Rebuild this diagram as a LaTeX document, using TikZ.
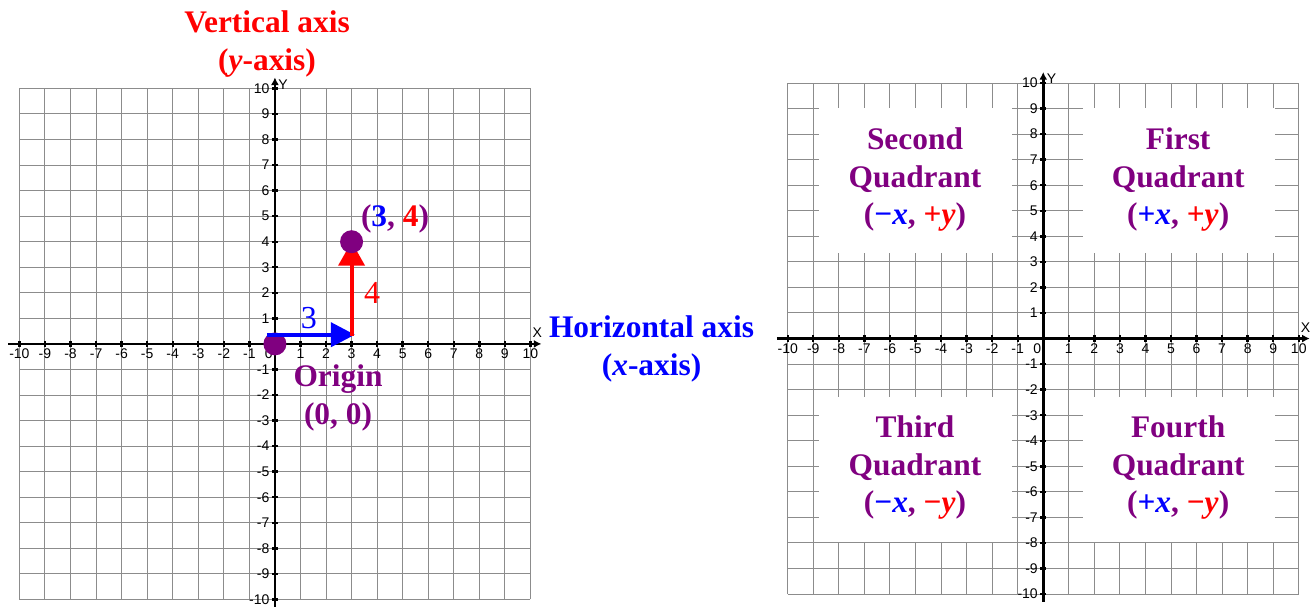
\documentclass[tikz,border=0pt]{standalone}
\usepackage{fontspec}
\setmainfont{Liberation Serif}
\newfontfamily\ticksans{Liberation Sans}
\usepackage{xcolor}
\definecolor{plum}{RGB}{128, 0, 128}
\definecolor{xblue}{RGB}{0, 0, 255}
\definecolor{yred}{RGB}{255, 0, 0}
\definecolor{gridgray}{RGB}{140, 140, 140}
\usetikzlibrary{arrows.meta}

\tikzset{
    gridline/.style={gridgray, line width=0.5pt},
    axisline/.style={line width=1.35pt, -{Latex[length=3.8pt,width=4pt]}},
    tickmark/.style={line width=1.2pt},
    ticklabel/.style={font=\ticksans\fontsize{7}{8}\selectfont, inner sep=0pt},
    bigtext/.style={font=\bfseries\fontsize{15.7}{18.8}\selectfont, align=center, plum, inner sep=0pt},
    steptext/.style={font=\fontsize{16}{18}\selectfont, inner sep=0pt},
}

\begin{document}
\begin{tikzpicture}[x=12.775pt, y=12.775pt, >=Stealth]
    \useasboundingbox (-10.76,-10.26) rectangle (40.51,13.46);

    % Both grids with axes and numbers
    \foreach \ox/\oy/\g in {0/0/L, 30.07/0.21/R} {
        \begin{scope}[shift={(\ox,\oy)}]
            \foreach \k in {-10,...,10} {
                \draw[gridline] (\k,-10) -- (\k,10);
                \draw[gridline] (-10,\k) -- (10,\k);
            }
            \draw[axisline] (-10.43,0) -- (10.43,0);
            \draw[axisline] (0,-10.3) -- (0,10.43);
            \foreach \i in {-10,...,-1,1,2,...,10} {
                \draw[tickmark] (\i,-0.12) -- (\i,0.12);
                \draw[tickmark] (-0.12,\i) -- (0.12,\i);
                \node[ticklabel] (\g x\i) at (\i,-0.38) {\i};
                \node[ticklabel, anchor=east] (\g y\i) at (-0.2,\i) {\i};
            }
            \node[ticklabel, anchor=east] (\g zero) at (-0.07,-0.38) {0};
            \node[ticklabel] (\g xname) at (10.27,0.42) {X};
            \node[ticklabel] (\g yname) at (0.32,10.16) {Y};
        \end{scope}
    }

    % Axis names
    \node[bigtext, yred] (vname) at (-0.31,11.73) {Vertical axis\\(\textit{y}-axis)};
    \node[bigtext, xblue] (hname) at (14.74,-0.2) {Horizontal axis\\(\textit{x}-axis)};

    % Walk from the origin to (3, 4)
    \coordinate (O) at (0,0);
    \coordinate (P) at (3,4);
    \coordinate (xstart) at (-0.32,0.36);
    \coordinate (xend) at (3.13,0.36);
    \coordinate (ystart) at (3,0.3);
    \fill[plum] (O) circle (0.45);
    \draw[xblue, line width=2pt, -{Triangle[length=12pt,width=12pt]}] (xstart) -- (xend);
    \draw[yred, line width=2pt, -{Triangle[length=12pt,width=13pt]}] (ystart) -- (P);
    \fill[plum] (P) circle (0.45);
    \node[steptext, xblue] (three) at (1.33,1.03) {3};
    \node[steptext, yred] (four) at (3.8,2.0) {4};
    \node[bigtext] (ptext) at (4.7,4.91) {(\textcolor{xblue}{3}, \textcolor{yred}{4})};
    \node[bigtext] (otext) at (2.47,-2.12) {Origin\\(0, 0)};

    % Quadrant names on the right grid
    \begin{scope}[shift={(30.07,0.21)}]
        \fill[white] (-8.78,3.35) rectangle (-1.24,9.04);
        \fill[white] (1.54,3.35) rectangle (9.07,9.04);
        \fill[white] (-8.78,-7.97) rectangle (-1.24,-2.28);
        \fill[white] (1.54,-7.97) rectangle (9.07,-2.28);
        \node[bigtext] (second) at (-5.02,6.22) {Second\\Quadrant\\(\textcolor{xblue}{−\textit{x}}, \textcolor{yred}{+\textit{y}})};
        \node[bigtext] (first) at (5.28,6.22) {First\\Quadrant\\(\textcolor{xblue}{+\textit{x}}, \textcolor{yred}{+\textit{y}})};
        \node[bigtext] (third) at (-5.02,-5.05) {Third\\Quadrant\\(\textcolor{xblue}{−\textit{x}}, \textcolor{yred}{−\textit{y}})};
        \node[bigtext] (fourth) at (5.28,-5.05) {Fourth\\Quadrant\\(\textcolor{xblue}{+\textit{x}}, \textcolor{yred}{−\textit{y}})};
    \end{scope}
\end{tikzpicture}
\end{document}
